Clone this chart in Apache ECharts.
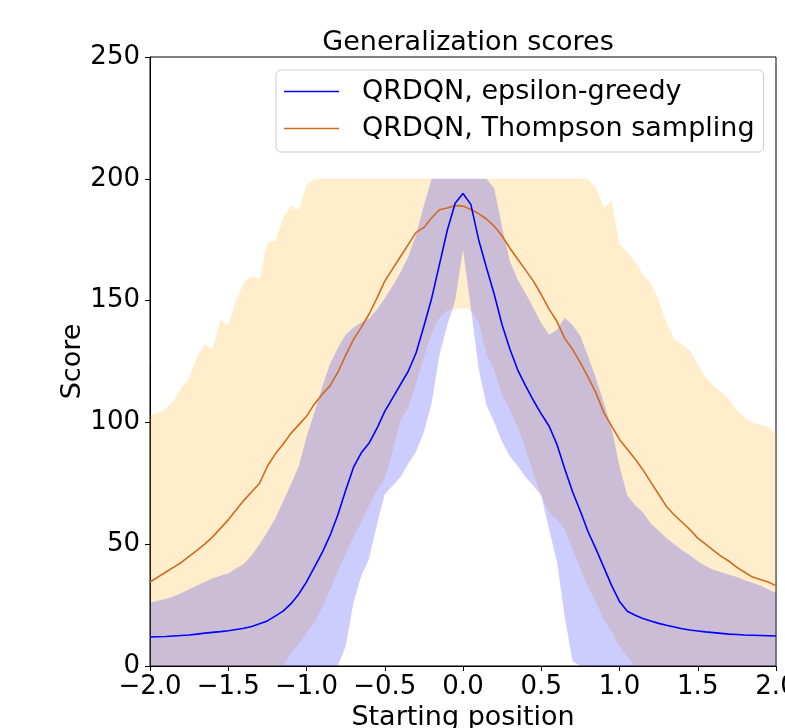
<!DOCTYPE html>
<html><head><meta charset="utf-8">
<script src="https://cdn.jsdelivr.net/npm/echarts@6/dist/echarts.min.js"></script>
<style>html,body{margin:0;padding:0;background:#fff}#chart{width:785px;height:728px}</style>
</head><body><div id="chart"></div>
<script>
// Starting positions (x)
const positions = [-2.0,-1.95,-1.9,-1.85,-1.8,-1.75,-1.7,-1.65,-1.6,-1.55,
  -1.5,-1.45,-1.4,-1.35,-1.3,-1.25,-1.2,-1.15,-1.1,-1.05,
  -1.0,-0.95,-0.9,-0.85,-0.8,-0.75,-0.7,-0.65,-0.6,-0.55,
  -0.5,-0.45,-0.4,-0.35,-0.3,-0.25,-0.2,-0.15,-0.1,-0.05,
  0.0,
  0.05,0.1,0.15,0.2,0.25,0.3,0.35,0.4,0.45,0.5,
  0.55,0.6,0.65,0.7,0.75,0.8,0.85,0.9,0.95,1.0,
  1.05,1.1,1.15,1.2,1.25,1.3,1.35,1.4,1.45,1.5,
  1.55,1.6,1.65,1.7,1.75,1.8,1.85,1.9,1.95,2.0];

// QRDQN, epsilon-greedy
const egMean = [11.9,12,12.1,12.3,12.5,12.7,13.1,13.5,13.8,14.1,
  14.5,15,15.5,16.2,17.3,18.5,20.5,22.5,25.5,29.5,
  34.5,40.5,46.5,53.5,62,72,81.5,87.5,91.5,97.5,
  104.5,110,115.5,121,128.5,139.5,151,165,179,190,
  194,
  189.5,175,163.5,152.5,140,130,121.5,115,109,103.5,
  98.5,91,81,71.5,63.5,55,48,40.5,33,26.5,
  22.5,20.8,19.5,18.5,17.5,16.7,16,15.3,14.8,14.4,
  14,13.7,13.4,13.1,12.9,12.7,12.6,12.5,12.4,12.3];
const egUpper = [26,26.8,27.5,28.5,30,31.5,33,34.5,36,37,
  38,40,42,45.5,50,55,60.5,67.5,74.5,82,
  94,104,114.5,124,130.5,136,139,141,142.5,146.5,
  151,156,161.5,168,177,189,200,200,200,200,
  200,
  200,200,200,196,180,166,158.5,153,147,140.7,
  136,138,143,140,135.5,127,118,108,97.5,82,
  70,66,63,58.5,55.5,52.5,50,47.5,45.5,43,
  41,39.5,38.5,37.5,36.5,35.2,34.2,33,31.5,30];
const egLower = [0,0,0,0,0,0,0,0,0,0,
  0,0,0,0,0,0,0,0,0,0,
  0,0,0,0,0,8,26,37,44,58,
  70.5,74,77.5,83,88,96,108,128,140,150,
  171,
  147,122,107,100,92,86,82,77.5,74,70,
  56,43,20,2,0,0,0,0,0,0,
  0,0,0,0,0,0,0,0,0,0,
  0,0,0,0,0,0,0,0,0,0];

// QRDQN, Thompson sampling
const tsMean = [34.5,36.5,38.5,40.5,42.5,45,47.5,50,53,56.5,
  60,64,68,71.5,75,82,87,91,95.5,99,
  102.5,107.5,111.5,115,120.5,127.5,134,139,144.5,151,
  158,163,168,173,178,180,184,187.3,188,189,
  188.8,
  187.4,185.7,183.5,180.5,176.5,171.5,167,162.5,158,152.5,
  146.5,141.5,134.5,130,124.5,118.5,112,104,98.5,93,
  89,85,80.5,75.5,70.5,65.5,62,59,56,52.5,
  50,47.5,45,43,40.5,38.5,36.5,35.5,34.5,33];
const tsUpper = [103,104,105.5,109,114,118,127,132,130,142,
  140,150,157.5,160,159,174,174.5,184,189,187,
  197.5,200,200,200,200,200,200,200,200,200,
  200,200,200,200,200,200,200,200,200,200,
  200,
  200,200,200,200,200,200,200,200,200,200,
  200,200,200,200,200,200,196,188,191,173,
  170,166,160.5,157,150,141,134,132,129.5,124,
  118.5,115,112.5,109.5,105,102,100,99,98.5,94.5];
const tsLower = [0,0,0,0,0,0,0,0,0,0,
  0,0,0,0,0,0,0,0,5,9,
  13.5,18,24,31,39,46,53,59,66,72,
  77,88,101,106,116,127,137,143,146,146.5,
  147,
  146,141,128,121.5,111,105,98,89,79,70,
  63,60,56,48,40,32.5,26,19,14,8,
  4,0,0,0,0,0,0,0,0,0,
  0,0,0,0,0,0,0,0,0,0];

const yTicks = [0, 50, 100, 150, 200, 250];
const xTicks = [-2.0, -1.5, -1.0, -0.5, 0.0, 0.5, 1.0, 1.5, 2.0];
const seriesNames = ['QRDQN, epsilon-greedy', 'QRDQN, Thompson sampling'];

const FONT = 'DejaVu Sans';
const pair = ys => positions.map((x, i) => [x, ys[i]]);
const fmtX = v => (v < 0 ? '\u2212' : '') + Math.abs(v).toFixed(1);

// band polygon drawn through the axis scales (api.coord)
const band = (upper, lower, color) => ({
  type: 'custom', silent: true, z: 2, clip: true,
  data: [[positions[0], lower[0]]],
  encode: { x: 0, y: 1 },
  renderItem: (params, api) => {
    const pts = [];
    for (let i = 0; i < positions.length; i++) pts.push(api.coord([positions[i], upper[i]]));
    for (let i = positions.length - 1; i >= 0; i--) pts.push(api.coord([positions[i], lower[i]]));
    return { type: 'polygon', shape: { points: pts }, style: { fill: color, stroke: null } };
  }
});

const chart = echarts.init(document.getElementById('chart'), null, { renderer: 'canvas' });
chart.setOption({
  animation: false,
  backgroundColor: '#ffffff',
  title: {
    text: 'Generalization scores', left: 463, top: 24, textAlign: 'center',
    textStyle: { fontFamily: FONT, fontSize: 27, fontWeight: 'normal', color: '#000' }
  },
  legend: {
    data: [
      { name: seriesNames[0], icon: 'path://M0,0H55V1.6H0Z' },
      { name: seriesNames[1], icon: 'path://M0,0H55V1.6H0Z' }
    ],
    orient: 'vertical', left: 276, top: 70,
    padding: [8, 9, 10, 8], itemGap: 10, itemWidth: 55, itemHeight: 30,
    backgroundColor: 'rgba(255,255,255,0.8)', borderColor: '#cccccc', borderWidth: 1, borderRadius: 5,
    textStyle: { fontFamily: FONT, fontSize: 27, color: '#000', padding: [0, 0, 0, 18] }
  },
  grid: { left: 150, right: 9, top: 57, bottom: 62, show: true, borderColor: '#000', borderWidth: 1,
    containLabel: false, outerBoundsMode: 'none' },
  xAxis: {
    type: 'value', min: xTicks[0], max: xTicks[xTicks.length - 1], interval: 0.5,
    axisLine: { show: true, onZero: false, lineStyle: { color: '#000', width: 1 } },
    axisTick: { show: true, length: 5, lineStyle: { color: '#000' } },
    axisLabel: { show: true, showMinLabel: true, showMaxLabel: true, margin: 8, formatter: fmtX,
      fontFamily: FONT, fontSize: 26, color: '#000' },
    splitLine: { show: false },
    name: 'Starting position', nameLocation: 'middle', nameGap: 34,
    nameTextStyle: { fontFamily: FONT, fontSize: 27, color: '#000' }
  },
  yAxis: {
    type: 'value', min: yTicks[0], max: yTicks[yTicks.length - 1], interval: 50,
    axisLine: { show: true, onZero: false, lineStyle: { color: '#000', width: 1 } },
    axisTick: { show: true, length: 5, lineStyle: { color: '#000' } },
    axisLabel: { show: true, margin: 10, fontFamily: FONT, fontSize: 26, color: '#000' },
    splitLine: { show: false },
    name: 'Score', nameLocation: 'middle', nameGap: 64, nameMoveOverlap: false,
    nameTextStyle: { fontFamily: FONT, fontSize: 27, color: '#000' }
  },
  series: [
    band(tsUpper, tsLower, 'rgba(255,165,0,0.2)'),
    band(egUpper, egLower, 'rgba(0,0,255,0.2)'),
    { name: seriesNames[1], type: 'line', data: pair(tsMean), symbol: 'none', showSymbol: false, z: 3,
      lineStyle: { color: '#D2691E', width: 1.6 }, itemStyle: { color: '#D2691E' }, emphasis: { disabled: true } },
    { name: seriesNames[0], type: 'line', data: pair(egMean), symbol: 'none', showSymbol: false, z: 4,
      lineStyle: { color: '#0000FF', width: 1.6 }, itemStyle: { color: '#0000FF' }, emphasis: { disabled: true } }
  ]
});
</script></body></html>
